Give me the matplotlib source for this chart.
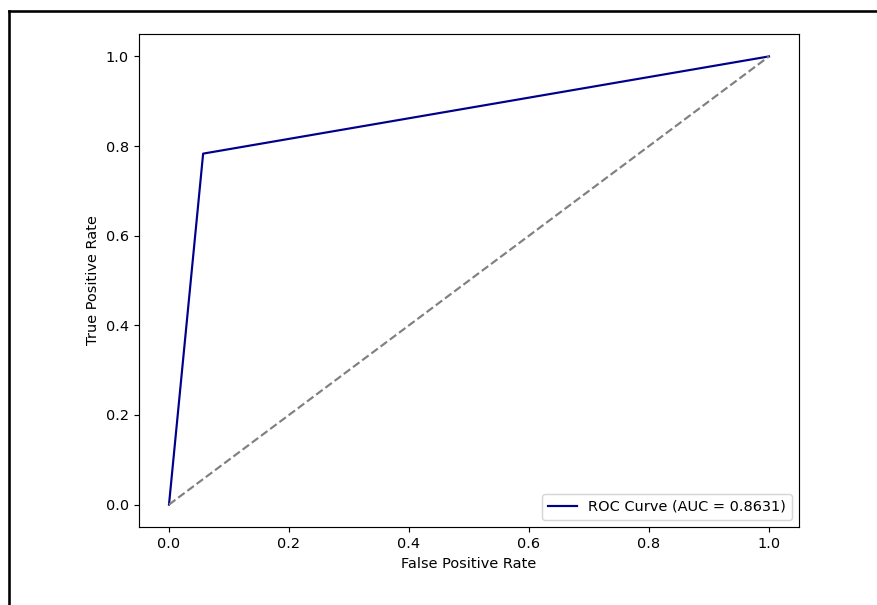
import matplotlib
matplotlib.use('Agg')
import matplotlib.pyplot as plt
from matplotlib.lines import Line2D

# ROC curve points
fpr = [0.0, 0.0569, 1.0]
tpr = [0.0, 0.7831, 1.0]
auc_value = 0.8631
diag_x = [0, 1]
diag_y = [0, 1]

DPI = 104
fig = plt.figure(figsize=(878 / DPI, 605 / DPI), dpi=DPI)

# axes placed where the reference has them (pixel box 139..799 x 34..527)
ax = fig.add_axes([139 / 878, (605 - 527) / 605, 660 / 878, 493 / 605])

ax.plot(fpr, tpr, color='darkblue', lw=1.5, label=f'ROC Curve (AUC = {auc_value:.4f})')
ax.plot(diag_x, diag_y, color='gray', lw=1.5, linestyle='--')

ax.set_xlabel('False Positive Rate')
ax.set_ylabel('True Positive Rate')
ax.legend(loc='lower right')

# black frame from the screenshot crop (top and left edges)
fig.add_artist(Line2D([9 / 878, 1.0], [1 - 11 / 605, 1 - 11 / 605],
                      transform=fig.transFigure, color='black', lw=1.8))
fig.add_artist(Line2D([9 / 878, 9 / 878], [0.0, 1 - 11 / 605],
                      transform=fig.transFigure, color='black', lw=1.8))

fig.savefig('out.png', dpi=DPI)
